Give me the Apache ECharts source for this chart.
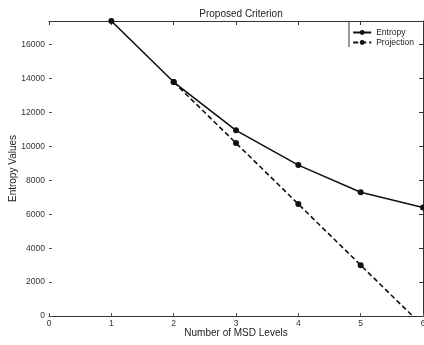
<!DOCTYPE html>
<html>
<head>
<meta charset="utf-8">
<script src="https://cdn.jsdelivr.net/npm/echarts@6/dist/echarts.min.js"></script>
<style>
html,body{margin:0;padding:0;background:#fff;}
#chart{width:424px;height:345px;}
</style>
</head>
<body>
<div id="chart"></div>
<script>
var levels = [1, 2, 3, 4, 5, 6];
var entropyValues = [17400, 13800, 10950, 8900, 7300, 6400];
var projLevels = [2, 3, 4, 5, 6];
var projectionValues = [13800, 10200, 6600, 3000, -600];

var chart = echarts.init(document.getElementById('chart'));
var font = 'Liberation Sans, Arial, sans-serif';

function pairs(xs, ys) {
    var out = [];
    for (var i = 0; i < xs.length; i++) out.push([xs[i], ys[i]]);
    return out;
}

var option = {
    animation: false,
    backgroundColor: '#fff',
    title: {
        text: 'Proposed Criterion',
        left: 236, top: 4, textAlign: 'center',
        textStyle: {fontSize: 10, fontWeight: 'normal', color: '#222', fontFamily: font}
    },
    legend: {
        right: 5, top: 23, orient: 'vertical',
        itemWidth: 18, itemHeight: 6, itemGap: 1,
        textStyle: {fontSize: 8.5, color: '#222', fontFamily: font},
        data: ['Entropy', 'Projection']
    },
    graphic: [{
        type: 'line', shape: {x1: 349, y1: 22, x2: 349, y2: 47},
        style: {stroke: '#333', lineWidth: 1}
    }],
    grid: {left: 49, right: 1, top: 21, bottom: 29, containLabel: false, outerBoundsMode: 'none'},
    xAxis: [{
        type: 'value', min: 0, max: 6, interval: 1,
        name: 'Number of MSD Levels', nameLocation: 'middle', nameGap: 12, nameMoveOverlap: false,
        nameTextStyle: {fontSize: 10, color: '#222', fontFamily: font},
        axisLine: {onZero: false, lineStyle: {color: '#333', width: 1}},
        axisTick: {inside: true, length: 3, lineStyle: {color: '#555'}},
        axisLabel: {fontSize: 8.5, color: '#333', fontFamily: font, margin: 3},
        splitLine: {show: false}
    }, {
        type: 'value', position: 'top', min: 0, max: 6, interval: 1,
        axisLine: {onZero: false, lineStyle: {color: '#333', width: 1}},
        axisTick: {inside: true, length: 4, lineStyle: {color: '#333'}},
        axisLabel: {show: false},
        splitLine: {show: false}
    }],
    yAxis: [{
        type: 'value', min: 0, max: 17400, interval: 2000,
        name: 'Entropy Values', nameLocation: 'middle', nameGap: 31, nameMoveOverlap: false,
        nameTextStyle: {fontSize: 10, color: '#222', fontFamily: font},
        axisLine: {show: false, onZero: false},
        axisTick: {show: true, inside: true, length: 3, lineStyle: {color: '#555'}},
        axisLabel: {fontSize: 8.5, color: '#333', fontFamily: font, margin: 4, showMaxLabel: false,
            formatter: function (v) { return String(v); }},
        splitLine: {show: false}
    }, {
        type: 'value', position: 'right', min: 0, max: 17400, interval: 2000,
        axisLine: {show: true, onZero: false, lineStyle: {color: '#333', width: 1}},
        axisTick: {show: true, inside: true, length: 4, lineStyle: {color: '#333'}},
        axisLabel: {show: false},
        splitLine: {show: false}
    }],
    series: [{
        name: 'Entropy', type: 'line',
        data: pairs(levels, entropyValues),
        symbol: 'circle', symbolSize: 6,
        itemStyle: {color: '#111'},
        lineStyle: {color: '#111', width: 1.6}
    }, {
        name: 'Projection', type: 'line',
        data: pairs(projLevels, projectionValues),
        symbol: 'circle', symbolSize: 6,
        itemStyle: {color: '#111'},
        lineStyle: {color: '#111', width: 1.6, type: [5, 3]},
        clip: true
    }]
};
chart.setOption(option);
window.onresize = chart.resize;
</script>
</body>
</html>
